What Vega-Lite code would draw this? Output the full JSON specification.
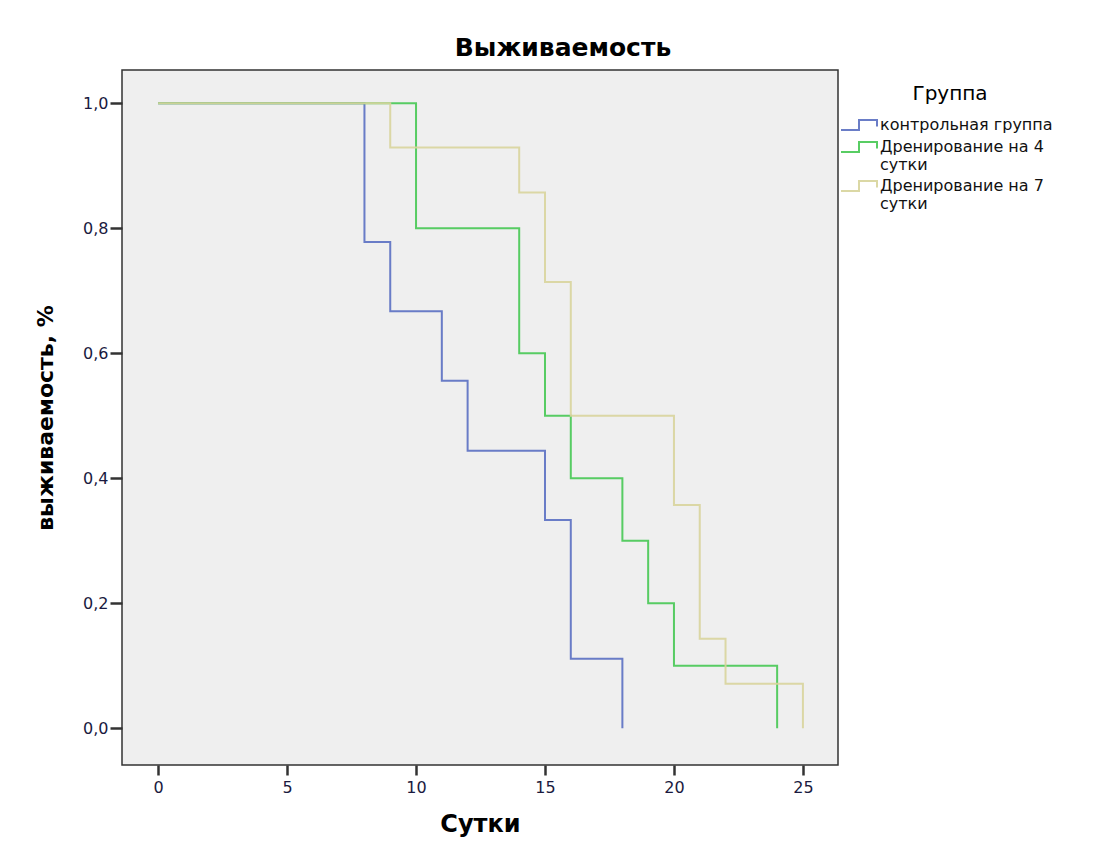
{
  "$schema": "https://vega.github.io/schema/vega-lite/v6.json",
  "autosize": {"type": "none"},
  "width": 716,
  "height": 695,
  "padding": {"left": 122, "top": 70, "right": 262, "bottom": 87},
  "background": "white",
  "title": {
    "text": "Выживаемость",
    "font": "DejaVu Sans",
    "fontSize": 25,
    "fontWeight": "bold",
    "color": "#000000",
    "anchor": "middle",
    "dx": 83,
    "offset": 9
  },
  "data": {
    "values": [
      {"group": "контрольная группа", "t": 0, "s": 1.0},
      {"group": "контрольная группа", "t": 8, "s": 0.778},
      {"group": "контрольная группа", "t": 9, "s": 0.667},
      {"group": "контрольная группа", "t": 11, "s": 0.556},
      {"group": "контрольная группа", "t": 12, "s": 0.444},
      {"group": "контрольная группа", "t": 15, "s": 0.333},
      {"group": "контрольная группа", "t": 16, "s": 0.111},
      {"group": "контрольная группа", "t": 18, "s": 0.0},
      {"group": "Дренирование на 4 сутки", "t": 0, "s": 1.0},
      {"group": "Дренирование на 4 сутки", "t": 10, "s": 0.8},
      {"group": "Дренирование на 4 сутки", "t": 14, "s": 0.6},
      {"group": "Дренирование на 4 сутки", "t": 15, "s": 0.5},
      {"group": "Дренирование на 4 сутки", "t": 16, "s": 0.4},
      {"group": "Дренирование на 4 сутки", "t": 18, "s": 0.3},
      {"group": "Дренирование на 4 сутки", "t": 19, "s": 0.2},
      {"group": "Дренирование на 4 сутки", "t": 20, "s": 0.1},
      {"group": "Дренирование на 4 сутки", "t": 24, "s": 0.0},
      {"group": "Дренирование на 7 сутки", "t": 0, "s": 1.0},
      {"group": "Дренирование на 7 сутки", "t": 9, "s": 0.929},
      {"group": "Дренирование на 7 сутки", "t": 14, "s": 0.857},
      {"group": "Дренирование на 7 сутки", "t": 15, "s": 0.714},
      {"group": "Дренирование на 7 сутки", "t": 16, "s": 0.5},
      {"group": "Дренирование на 7 сутки", "t": 20, "s": 0.357},
      {"group": "Дренирование на 7 сутки", "t": 21, "s": 0.143},
      {"group": "Дренирование на 7 сутки", "t": 22, "s": 0.071},
      {"group": "Дренирование на 7 сутки", "t": 25, "s": 0.0}
    ]
  },
  "mark": {"type": "line", "interpolate": "step-after", "strokeWidth": 2, "opacity": 0.9},
  "encoding": {
    "x": {
      "field": "t",
      "type": "quantitative",
      "scale": {"domain": [-1.4, 26.36], "nice": false, "zero": false},
      "axis": {
        "values": [0, 5, 10, 15, 20, 25],
        "title": "Сутки",
        "titleFont": "DejaVu Sans",
        "titleFontSize": 24,
        "titleFontWeight": "bold",
        "titleColor": "#000000",
        "titlePadding": 17,
        "labelFont": "DejaVu Sans",
        "labelFontSize": 16,
        "labelColor": "#1a1a40",
        "labelPadding": 4,
        "tickSize": 10,
        "tickWidth": 2.5,
        "tickColor": "#333333",
        "domain": false,
        "grid": false
      }
    },
    "y": {
      "field": "s",
      "type": "quantitative",
      "scale": {"domain": [-0.059, 1.053], "nice": false, "zero": false},
      "axis": {
        "values": [0, 0.2, 0.4, 0.6, 0.8, 1.0],
        "labelExpr": "replace(format(datum.value, '.1f'), '.', ',')",
        "title": "выживаемость, %",
        "titleFont": "DejaVu Sans",
        "titleFontSize": 22,
        "titleFontWeight": "bold",
        "titleColor": "#000000",
        "titlePadding": 25,
        "labelFont": "DejaVu Sans",
        "labelFontSize": 16,
        "labelColor": "#1a1a40",
        "labelPadding": 2,
        "tickSize": 12,
        "tickWidth": 2.5,
        "tickColor": "#333333",
        "domain": false,
        "grid": false
      }
    },
    "color": {
      "field": "group",
      "type": "nominal",
      "scale": {
        "domain": ["контрольная группа", "Дренирование на 4 сутки", "Дренирование на 7 сутки"],
        "range": ["#5a6fc2", "#46c853", "#d8d49c"]
      },
      "legend": {
        "title": "Группа",
        "orient": "none",
        "legendX": 726,
        "legendY": 14,
        "padding": 0,
        "titleFont": "DejaVu Sans",
        "titleFontSize": 20,
        "titleFontWeight": "normal",
        "titleColor": "#000000",
        "titleAnchor": "middle",
        "titlePadding": 10,
        "labelFont": "DejaVu Sans",
        "labelFontSize": 16,
        "labelColor": "#111111",
        "labelLimit": 260,
        "labelOffset": 10,
        "labelExpr": "indexof(datum.label, ' сутки') > 0 ? [replace(datum.label, ' сутки', ''), 'сутки'] : datum.label",
        "symbolType": "M-1.8,0.5 H0 V-0.5 H1.8 V0.15",
        "symbolSize": 400,
        "symbolStrokeWidth": 2,
        "symbolFillColor": "transparent",
        "rowPadding": 2
      }
    }
  },
  "config": {
    "view": {"fill": "#efefef", "stroke": "#333333", "strokeWidth": 1.5},
    "style": {"guide-label": {"lineHeight": 18}}
  }
}
